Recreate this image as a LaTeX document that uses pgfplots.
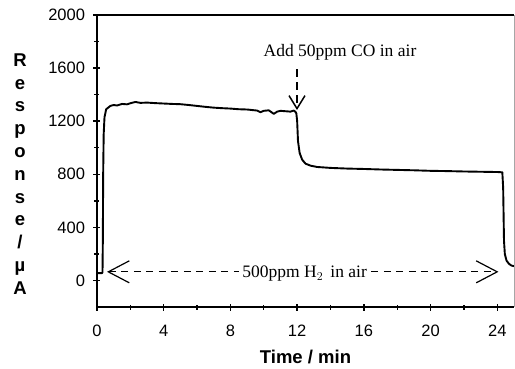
\documentclass[border=0pt]{standalone}
\usepackage{fontspec}
\setmainfont{Liberation Sans}
\newfontfamily\seriffont{Liberation Serif}
\usepackage{pgfplots}
\pgfplotsset{compat=1.18}
\usetikzlibrary{arrows.meta}
\begin{document}
\begin{tikzpicture}[x=1pt,y=1pt]
\path[use as bounding box] (-97,-61) rectangle (418,307);
\begin{axis}[
  at={(0,0)}, anchor=south west,
  scale only axis, width=417pt, height=292pt,
  xmin=0, xmax=25, ymin=-200, ymax=2000,
  axis lines*=left,
  axis line style={line width=1.6pt},
  xtick={0,4,...,24}, ytick={0,400,...,2000},
  minor x tick num=1, minor y tick num=1,
  tick align=center,
  major tick length=7pt, minor tick length=5pt,
  every tick/.style={black, line width=1.4pt},
  /pgf/number format/assume math mode=true,
  /pgf/number format/1000 sep={},
  tick label style={font=\fontsize{16.5}{16.5}\selectfont},
  xticklabel style={yshift=-11pt},
  yticklabel style={xshift=-5pt},
  xlabel={Time / min},
  xlabel style={at={(axis description cs:0.5,0)}, anchor=center, yshift=-50pt, font=\bfseries\fontsize{18.5}{18.5}\selectfont},
  clip=false,
]
\addplot[black, line width=1.9pt, line join=round] coordinates {
(0,55) (0.3,55) (0.33,62) (0.35,300) (0.37,800) (0.4,1100) (0.45,1230) (0.55,1290) (0.8,1315)
(1.0,1322) (1.2,1318) (1.5,1330) (1.8,1327) (2.0,1335) (2.3,1345) (2.6,1338) (3.0,1340) (3.5,1336)
(4,1333) (4.5,1330) (5,1328) (5.5,1322) (6,1315) (6.5,1308) (7,1302) (7.5,1298) (8,1295)
(8.5,1290) (9,1288) (9.3,1284) (9.6,1280) (9.8,1268) (10,1278) (10.3,1282) (10.6,1255)
(10.8,1272) (11,1278) (11.3,1275) (11.6,1272) (11.8,1280) (11.9,1270) (11.95,1260)
(12.0,1200) (12.05,1050) (12.15,960) (12.3,910) (12.5,880) (12.8,865) (13.2,855) (14,848)
(15,843) (16,840) (17,836) (18,833) (19,830) (20,826) (21,824) (22,821) (23,819) (24,817)
(24.3,815) (24.35,700) (24.4,300) (24.45,200) (24.55,150) (24.7,125) (24.85,112) (25,108)
};
\draw[line width=1.6pt] (rel axis cs:0,1) -- (rel axis cs:1,1);
\draw[gray!70, line width=1pt] (rel axis cs:1,0) -- (rel axis cs:1,1);
% horizontal arrow
\draw[line width=1.2pt, dash pattern=on 7pt off 5.5pt,
  {Straight Barb[length=21pt,width=22pt,line width=1.2pt]}-{Straight Barb[length=21pt,width=22pt,line width=1.2pt]}]
  (axis cs:0.6,65) -- (axis cs:24.07,65);
\node[fill=white, inner sep=3pt, font=\seriffont\fontsize{17.5}{17.5}\selectfont] at (axis cs:12.45,50) {500ppm H$_2$\, in air};
% vertical arrow
\draw[line width=1.5pt, dash pattern=on 8pt off 5pt,
  -{Straight Barb[length=13pt,width=16pt,line width=1.5pt]}]
  (axis cs:11.99,1590) -- (axis cs:11.99,1284);
\node[font=\seriffont\fontsize{17.5}{17.5}\selectfont] at (axis cs:14.57,1721) {Add 50ppm CO in air};
\end{axis}
\node[align=center, font=\bfseries\fontsize{18.5}{22.8}\selectfont] at (-77,133)
  {R\\e\\s\\p\\o\\n\\s\\e\\/\\µ\\A};
\end{tikzpicture}
\end{document}
